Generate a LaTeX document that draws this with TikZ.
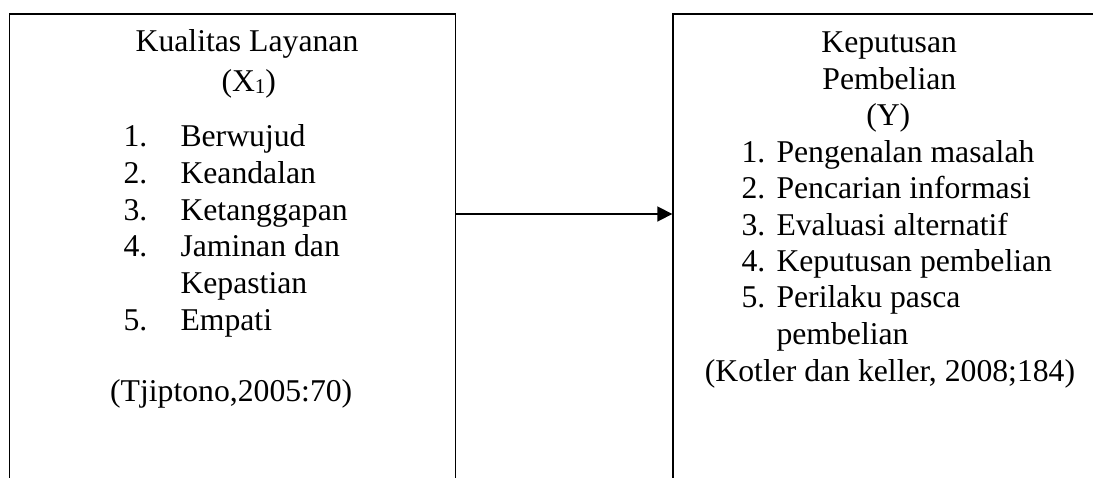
\documentclass[tikz,border=0pt]{standalone}
\usepackage{fontspec}
\setmainfont{Liberation Serif}
\usetikzlibrary{arrows.meta}
\tikzset{
  box/.style={draw=black, line width=1.7pt, fill=none, inner sep=0pt, anchor=north west},
  txt/.style={inner sep=0pt, outer sep=0pt, font=\fontsize{31.7}{36.6}\selectfont, text=black},
  ctr/.style={txt, anchor=base},
  lft/.style={txt, anchor=base west},
  conn/.style={line width=1.8pt, -{Triangle[length=15pt, width=15pt]}}
}
\begin{document}
\begin{tikzpicture}[x=1pt, y=-1pt]
\fill[white] (0,0) rectangle (1093,477);
\useasboundingbox (0,0) rectangle (1093,477);
\begin{scope}
\clip (0,0) rectangle (1093,477);
\node[box, minimum width=446pt, minimum height=520pt] (L) at (8.7,13) {};
\node[box, minimum width=440pt, minimum height=520pt] (R) at (672.3,13) {};
\end{scope}
\coordinate (arrowy) at (0,214);
\draw[conn] (L.east |- arrowy) -- (R.west |- arrowy);
% left box text
\node[ctr] (lt1) at (247,51.7) {Kualitas Layanan};
\node[ctr] (lt2) at (248.8,91.7) {(X\raisebox{-2pt}{\fontsize{21}{21}\selectfont 1})};
\node[lft] (ln1) at (123.5,146.7) {1.};
\node[lft] (li1) at (180.5,146.7) {Berwujud};
\node[lft] (ln2) at (123.5,183.3) {2.};
\node[lft] (li2) at (180.5,183.3) {Keandalan};
\node[lft] (ln3) at (123.5,220.2) {3.};
\node[lft] (li3) at (180.5,220.2) {Ketanggapan};
\node[lft] (ln4) at (123.5,256.9) {4.};
\node[lft] (li4) at (180.5,256.9) {Jaminan dan};
\node[lft] (li4b) at (180.5,293.4) {Kepastian};
\node[lft] (ln5) at (123.5,330.3) {5.};
\node[lft] (li5) at (180.5,330.3) {Empati};
\node[ctr] (lsrc) at (231.2,401.7) {(Tjiptono,2005:70)};
% right box text
\node[ctr] (rt1) at (889.2,52.3) {Keputusan};
\node[ctr] (rt2) at (889.3,89) {Pembelian};
\node[ctr] (rt3) at (888.3,125.7) {(Y)};
\node[lft] (rn1) at (741.5,162.3) {1.};
\node[lft] (ri1) at (776.5,162.3) {Pengenalan masalah};
\node[lft] (rn2) at (741.5,198.6) {2.};
\node[lft] (ri2) at (776.5,198.6) {Pencarian informasi};
\node[lft] (rn3) at (741.5,235.1) {3.};
\node[lft] (ri3) at (776.5,235.1) {Evaluasi alternatif};
\node[lft] (rn4) at (741.5,271.7) {4.};
\node[lft] (ri4) at (776.5,271.7) {Keputusan pembelian};
\node[lft] (rn5) at (741.5,307.9) {5.};
\node[lft] (ri5) at (776.5,307.9) {Perilaku pasca};
\node[lft] (ri5b) at (776.5,344.3) {pembelian};
\node[ctr] (rsrc) at (890,381) {(Kotler dan keller, 2008;184)};
\end{tikzpicture}
\end{document}
